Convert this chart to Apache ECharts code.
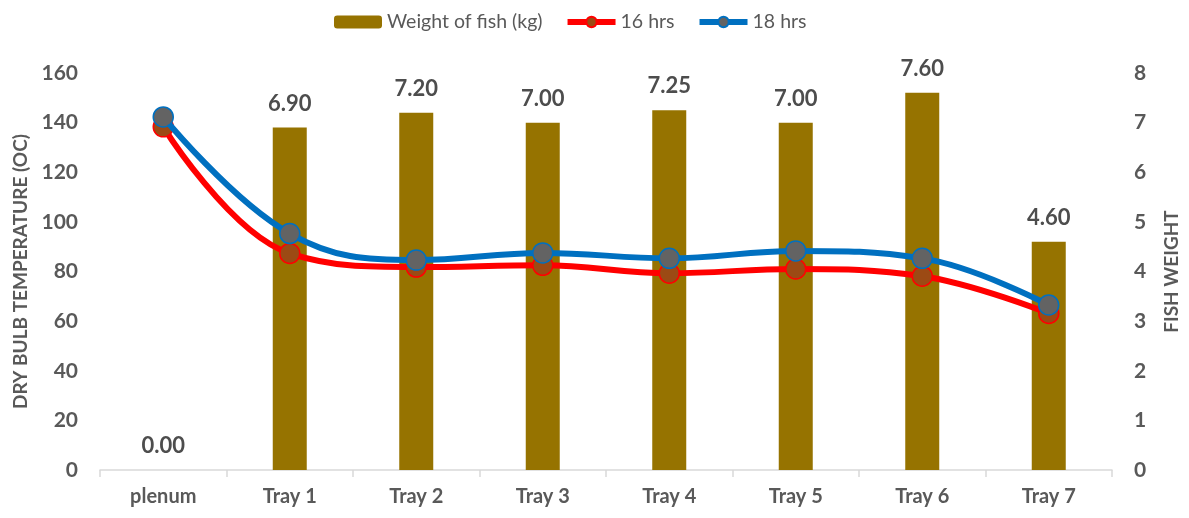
<!DOCTYPE html>
<html>
<head>
<meta charset="utf-8">
<script src="https://cdn.jsdelivr.net/npm/echarts@6/dist/echarts.min.js"></script>
<style>
  html, body { margin: 0; padding: 0; background: #fff; }
  #chart { width: 1189px; height: 518px; }
</style>
</head>
<body>
<div id="chart"></div>
<script>
// data
var categories = ['plenum', 'Tray 1', 'Tray 2', 'Tray 3', 'Tray 4', 'Tray 5', 'Tray 6', 'Tray 7']
var fishWeight = [0.00, 6.90, 7.20, 7.00, 7.25, 7.00, 7.60, 4.60]
var hrs16 = [138.3, 87.3, 81.8, 82.5, 79.3, 81.0, 78.1, 63.1]
var hrs18 = [142.3, 95.3, 84.6, 87.5, 85.3, 88.3, 85.3, 66.5]

var txt = '#595959'
var font = 'Lato, "Open Sans", sans-serif'

var myChart = echarts.init(document.getElementById('chart'))
var option = {
  animation: false,
  textStyle: { fontFamily: font },
  legend: {
    top: 7,
    left: 329,
    itemGap: 22,
    itemWidth: 48,
    itemHeight: 13,
    lineStyle: { width: 6 },
    textStyle: { color: txt, fontSize: 19.5, fontFamily: font },
    data: ['Weight of fish (kg)', '16 hrs', '18 hrs']
  },
  grid: {
    left: 100,
    right: 73,
    top: 73,
    bottom: 48,
    containLabel: false
  },
  xAxis: {
    type: 'category',
    data: categories,
    boundaryGap: true,
    axisLine: { lineStyle: { color: '#d9d9d9', width: 1.5 } },
    axisTick: { show: true, length: 7, lineStyle: { color: '#d9d9d9', width: 1.5 } },
    axisLabel: { color: txt, fontSize: 20, fontWeight: 'bold', margin: 17 }
  },
  yAxis: [{
    type: 'value',
    min: 0,
    max: 160,
    interval: 20,
    name: 'DRY BULB TEMPERATURE (OC)',
    nameLocation: 'middle',
    nameGap: 70,
    nameTextStyle: { color: txt, fontSize: 19, fontWeight: 'bold' },
    axisLine: { show: false },
    axisTick: { show: false },
    splitLine: { show: false },
    axisLabel: { color: txt, fontSize: 21, fontWeight: 'bold', margin: 22 }
  }, {
    type: 'value',
    min: 0,
    max: 8,
    interval: 1,
    name: 'FISH WEIGHT',
    nameLocation: 'middle',
    nameGap: 50,
    nameRotate: 90,
    nameTextStyle: { color: txt, fontSize: 19, fontWeight: 'bold' },
    axisLine: { show: false },
    axisTick: { show: false },
    splitLine: { show: false },
    axisLabel: { color: txt, fontSize: 21, fontWeight: 'bold', margin: 22 }
  }],
  series: [{
    name: 'Weight of fish (kg)',
    type: 'bar',
    yAxisIndex: 1,
    data: fishWeight,
    barWidth: 34,
    itemStyle: { color: '#967300' },
    label: {
      show: true,
      position: 'top',
      distance: 13,
      color: '#4d4d4d',
      fontSize: 22,
      fontWeight: 'bold',
      formatter: function (p) { return p.value.toFixed(2) }
    }
  }, {
    name: '16 hrs',
    type: 'line',
    yAxisIndex: 0,
    data: hrs16,
    smooth: 0.4,
    symbol: 'circle',
    symbolSize: 20,
    lineStyle: { color: '#ff0000', width: 6 },
    itemStyle: { color: '#9c4a14', borderColor: '#ff0000', borderWidth: 1.5 },
    z: 3
  }, {
    name: '18 hrs',
    type: 'line',
    yAxisIndex: 0,
    data: hrs18,
    smooth: 0.4,
    symbol: 'circle',
    symbolSize: 20,
    lineStyle: { color: '#0070c0', width: 6 },
    itemStyle: { color: '#636363', borderColor: '#0070c0', borderWidth: 1.5 },
    z: 4
  }]
}
myChart.setOption(option)
</script>
</body>
</html>
